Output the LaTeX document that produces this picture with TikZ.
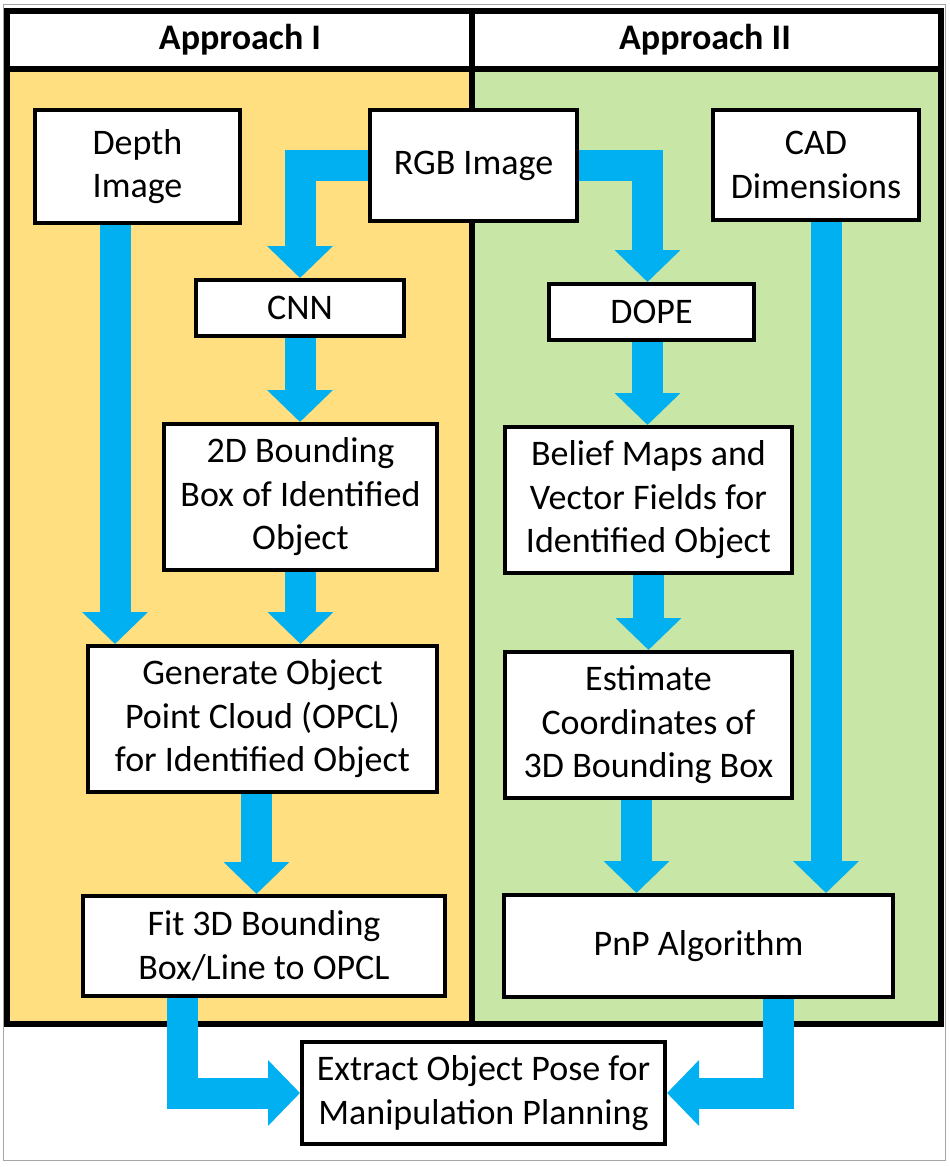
\documentclass[tikz,border=0pt]{standalone}
\usepackage{fontspec}
\setmainfont{Carlito}
\usetikzlibrary{arrows.meta,calc}
\definecolor{panelyellow}{RGB}{255,223,128}
\definecolor{panelgreen}{RGB}{200,230,165}
\definecolor{arrowblue}{RGB}{0,176,240}
\pgfdeclarelayer{bg}
\pgfsetlayers{bg,main}
\begin{document}
\begin{tikzpicture}[x=1pt,y=-1pt,
  box/.style={draw=black, line width=4pt, fill=white, align=center, inner sep=0pt,
    font=\fontsize{36}{43.5}\selectfont},
  head/.style={font=\bfseries\fontsize{36}{40}\selectfont, inner sep=0pt},
  barrow/.style={draw=arrowblue, line width=31pt, line join=miter,
    -{Triangle[width=64pt,length=32pt]}}]
\useasboundingbox (0,0) rectangle (950,1167);

% boxes
\node[box, minimum width=205pt, minimum height=113pt] (depth) at (137.5,166.5) {Depth\\Image};
\node[box, minimum width=207pt, minimum height=111pt] (rgb) at (473.5,165.5) {RGB Image};
\node[box, minimum width=206pt, minimum height=110pt] (cad) at (816,165) {CAD\\Dimensions};
\node[box, minimum width=208pt, minimum height=56pt] (cnn) at (300,308) {CNN};
\node[box, minimum width=205pt, minimum height=56pt] (dope) at (651.5,312) {DOPE};
\node[box, minimum width=273pt, minimum height=146pt] (bb2d) at (300.5,497) {2D Bounding\\Box of Identified\\Object};
\node[box, minimum width=287pt, minimum height=146pt] (belief) at (648.5,500) {Belief Maps and\\Vector Fields for\\Identified Object};
\node[box, minimum width=349pt, minimum height=146pt] (gen) at (262.5,719) {Generate Object\\Point Cloud (OPCL)\\for Identified Object};
\node[box, minimum width=287pt, minimum height=146pt] (est) at (648.5,725) {Estimate\\Coordinates of\\3D Bounding Box};
\node[box, minimum width=362pt, minimum height=100pt] (fit) at (264,946) {Fit 3D Bounding\\Box/Line to OPCL};
\node[box, minimum width=389pt, minimum height=102pt] (pnp) at (698.5,946) {PnP Algorithm};
\node[box, minimum width=363pt, minimum height=102pt] (ext) at (483.5,1093) {Extract Object Pose for\\Manipulation Planning};

% headers
\node[head] (h1) at (240,40) {Approach I};
\node[head] (h2) at (705,40) {Approach II};

\begin{pgfonlayer}{bg}
  \fill[white] (0,0) rectangle (950,1167);
  % panels
  \fill[panelyellow] (7,68.5) rectangle (472,1023.5);
  \fill[panelgreen] (472,68.5) rectangle (941,1023.5);
  % frames
  \draw[gray!70, line width=1.5pt] (3.5,4.5) rectangle (945.5,1160.5);
  \draw[black, line width=6pt] (7,10.5) rectangle (941,1023.5);
  \draw[black, line width=6pt] (7,68.5) -- (941,68.5);
  \draw[black, line width=6pt] (472,10.5) -- (472,1023.5);
  % arrows
  \draw[barrow] (rgb.west) -| (cnn.north);
  \draw[barrow] (rgb.east) -| ([xshift=-4pt]dope.north);
  \draw[barrow] ([xshift=-22.5pt]depth.south) -- ([xshift=-22.5pt]depth.south |- gen.north);
  \draw[barrow] ([xshift=10pt]cad.south) -- ([xshift=10pt]cad.south |- pnp.north);
  \draw[barrow] (cnn.south) -- (cnn.south |- bb2d.north);
  \draw[barrow] ([xshift=-4pt]dope.south) -- ([xshift=-4pt]dope.south |- belief.north);
  \draw[barrow] (bb2d.south) -- (bb2d.south |- gen.north);
  \draw[barrow] (belief.south) -- (belief.south |- est.north);
  \draw[barrow] ([xshift=-6pt]gen.south) -- ([xshift=-6pt]gen.south |- fit.north);
  \draw[barrow] ([xshift=-12pt]est.south) -- ([xshift=-12pt]est.south |- pnp.north);
  \draw[barrow] ([xshift=-82pt]fit.south) |- (ext.west);
  \draw[barrow] ([xshift=80pt]pnp.south) |- (ext.east);
\end{pgfonlayer}
\end{tikzpicture}
\end{document}
